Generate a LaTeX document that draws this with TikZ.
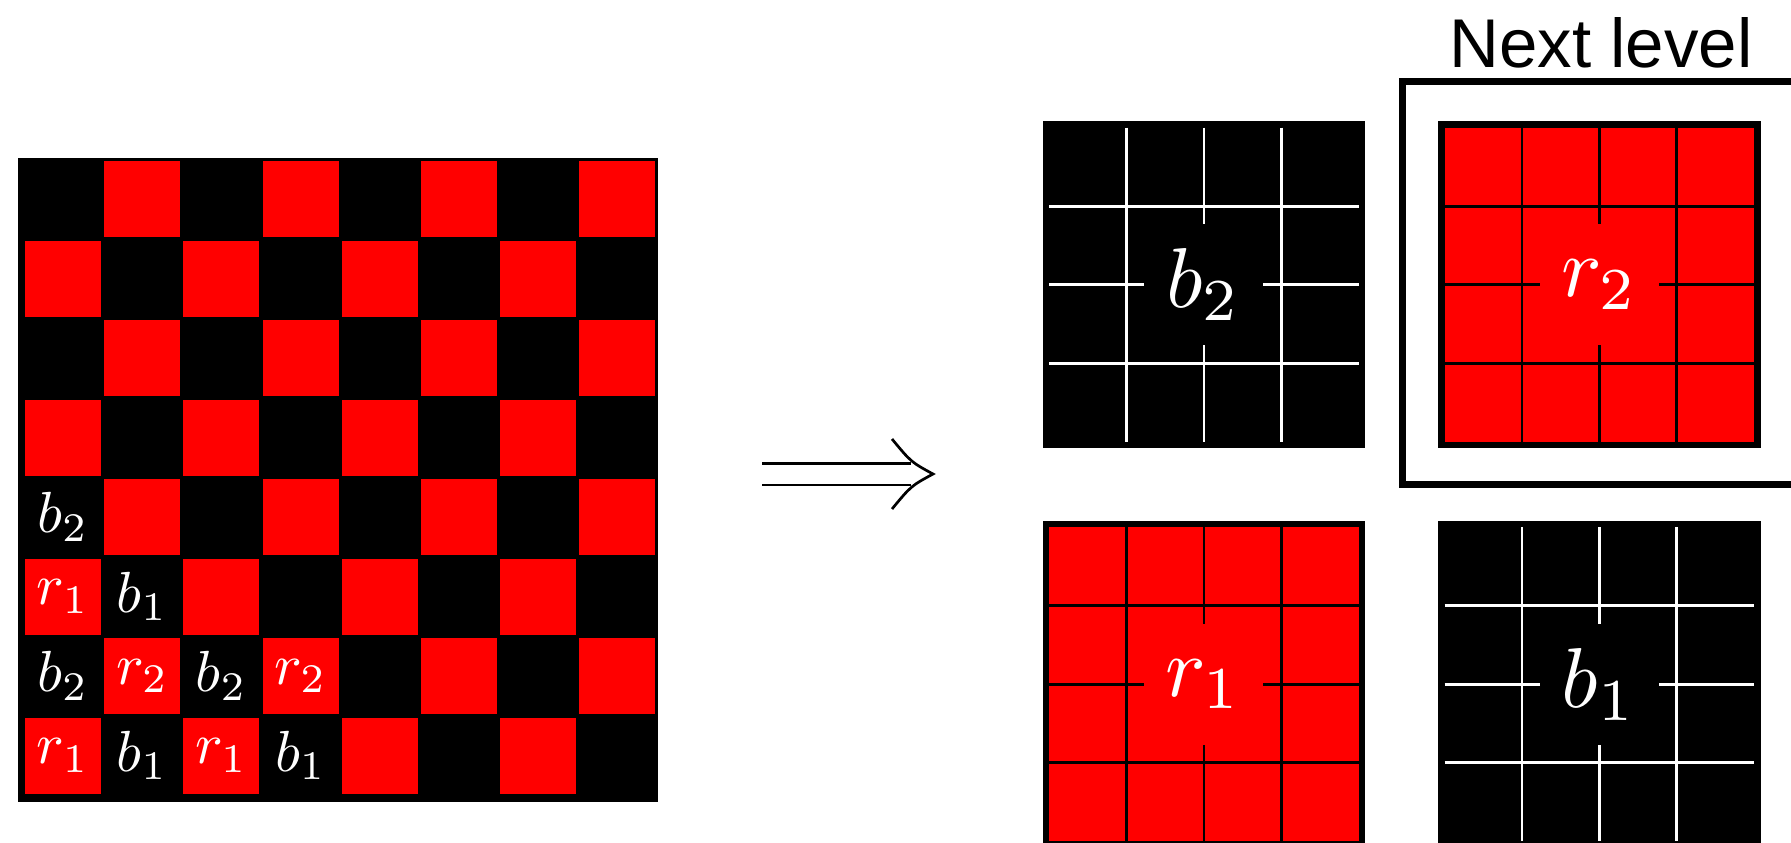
\documentclass[tikz,border=0pt]{standalone}
\usepackage{fontspec}
\newfontfamily\headfont{Liberation Sans}
\usetikzlibrary{calc}

\newcommand{\cellmath}[1]{\scalebox{5.8}{$#1$}}
\newcommand{\bigmath}[1]{\scalebox{8.5}{$#1$}}

\tikzset{
  cell label/.style={text=white, inner sep=0pt},
  big label/.style={text=white, inner sep=0pt, minimum width=119, minimum height=121},
  grid line/.style={line width=2.8},
}

\begin{document}
\begin{tikzpicture}[x=1pt, y=-1pt]
    \useasboundingbox (0,0) rectangle (1791,843);
    \clip (0,0) rectangle (1791,843);

    % board
    \fill[black] (18,158) rectangle (658,802);
    \foreach \r in {0,...,7}
      \foreach \c in {0,...,7} {
        \pgfmathtruncatemacro\odd{mod(\r+\c,2)}
        \ifnum\odd=1
          \fill[red] ({25+79.2*\c},{161+79.5*\r}) rectangle +(76,76);
        \fi
      }
    \foreach \r/\c/\t in {4/0/b_2, 5/0/r_1, 5/1/b_1, 6/0/b_2, 6/1/r_2, 6/2/b_2, 6/3/r_2,
                          7/0/r_1, 7/1/b_1, 7/2/r_1, 7/3/b_1}
      \node[cell label] (lab-\r-\c) at ({63+79.2*\c},{199+79.5*\r}) {\cellmath{\t}};

    % arrow
    \coordinate (arrS) at (762,474);
    \coordinate (arrE) at (933,474);
    \draw[double, double distance=19, line width=2.7] (arrS) -- ($(arrE)+(-22,0)$);
    \draw[line width=2.7] ($(arrE)+(-41,-35)$) .. controls ($(arrE)+(-22,-12)$) .. (arrE)
        .. controls ($(arrE)+(-22,12)$) .. ($(arrE)+(-41,35)$);

    % next level blocks
    \foreach \px/\py/\bg/\fg/\t/\nm in {1042.5/121/black/white/b_2/btwo, 1438/121/red/black/r_2/rtwo,
                                       1042.5/520.7/red/black/r_1/rone, 1438/520.7/black/white/b_1/bone} {
      \fill[black] (\px,\py) rectangle +(322.5,327);
      \fill[\bg] ({\px+6.6},{\py+6.6}) rectangle +(309.5,314);
      \foreach \k in {1,2,3} {
        \draw[grid line, \fg] ({\px+6.6+77.4*\k},{\py+6.6}) -- +(0,314);
        \draw[grid line, \fg] ({\px+6.6},{\py+6.6+78.5*\k}) -- +(309.5,0);
      }
      \node[big label, fill=\bg] (\nm) at ({\px+161.25},{\py+163.5}) {\bigmath{\t}};
    }

    \draw[line width=7] (1402.5,81.5) rectangle (1795.5,484.5);
    \node[font=\headfont\fontsize{69}{80}\selectfont, anchor=base, inner sep=0pt] (nextlvl) at (1601,67) {Next level};
\end{tikzpicture}
\end{document}
